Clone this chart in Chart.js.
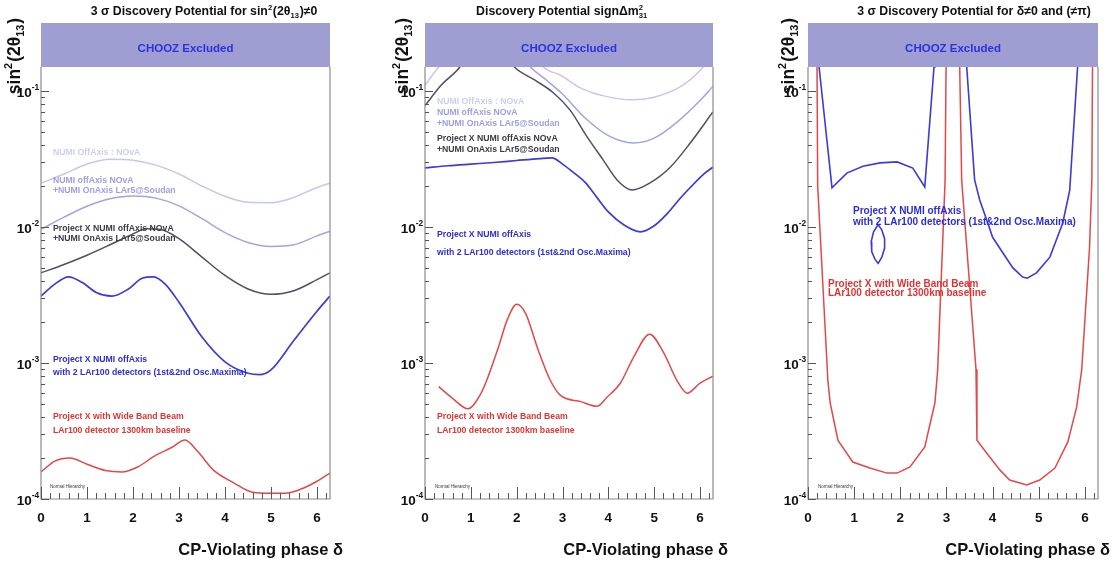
<!DOCTYPE html>
<html>
<head>
<meta charset="utf-8">
<script src="https://cdn.jsdelivr.net/npm/chart.js@4/dist/chart.umd.min.js"></script>
<style>
  html, body { margin: 0; padding: 0; background: #fff; }
  #wrap { position: relative; width: 1118px; height: 564px; overflow: hidden; }
  canvas { position: absolute; top: 0; }
</style>
</head>
<body>
<div id="wrap">
  <canvas id="c1" width="372" height="564" style="left:0px"></canvas>
  <canvas id="c2" width="373" height="564" style="left:372px"></canvas>
  <canvas id="c3" width="373" height="564" style="left:745px"></canvas>
</div>
<script>
// sin^2(2theta13) discovery reach versus the CP phase delta, three panels

const CHOOZ_LIMIT = 0.15;
const Y_MIN = 1e-4;
const Y_MAX = 0.316;
const X_MAX = 6.2832;

const xTickValues = [0, 1, 2, 3, 4, 5, 6];
const yDecades = [1e-4, 1e-3, 1e-2, 1e-1];
const yExponents = ['-4', '-3', '-2', '-1'];

// --- panel 1: sin^2(2theta13) != 0 ---
const p1NovaX = [0, 0.5, 1, 1.5, 2, 2.5, 3, 3.5, 4, 4.5, 5, 5.5, 6, 6.28];
const p1Nova  = [0.021, 0.0245, 0.029, 0.0315, 0.031, 0.0285, 0.0245, 0.020, 0.0168, 0.0152, 0.0151, 0.0165, 0.0195, 0.021];
const p1Lar5X = [0, 0.5, 1, 1.5, 2, 2.5, 3, 3.5, 4, 4.5, 5, 5.5, 6, 6.28];
const p1Lar5  = [0.0096, 0.0118, 0.0142, 0.0161, 0.0169, 0.0163, 0.0143, 0.0115, 0.0091, 0.0077, 0.0072, 0.0074, 0.0086, 0.0093];
const p1PxNovaX = [0, 0.5, 1, 1.5, 2, 2.3, 2.6, 3, 3.5, 4, 4.5, 5, 5.5, 6, 6.28];
const p1PxNova  = [0.0046, 0.0053, 0.0062, 0.0074, 0.0089, 0.0097, 0.0096, 0.0082, 0.006, 0.0044, 0.0035, 0.0032, 0.0034, 0.0041, 0.0046];
const p1PxLarX = [0, 0.3, 0.6, 0.9, 1.2, 1.54, 1.9, 2.2, 2.45, 2.7, 3, 3.5, 4, 4.5, 4.75, 5, 5.5, 6, 6.28];
const p1PxLar  = [0.0031, 0.0038, 0.0043, 0.0039, 0.0033, 0.0031, 0.0035, 0.0042, 0.0043, 0.0038, 0.0028, 0.00155, 0.00102, 0.00084, 0.00082, 0.00089, 0.00147, 0.0024, 0.0031];
const p1WbbX = [0, 0.3, 0.63, 1.0, 1.4, 1.76, 2.1, 2.5, 2.85, 3.13, 3.4, 3.75, 4.2, 4.6, 5.0, 5.3, 5.7, 6.0, 6.28];
const p1Wbb  = [0.000158, 0.00019, 0.0002, 0.00018, 0.000162, 0.000158, 0.000172, 0.00021, 0.00024, 0.000272, 0.000225, 0.000163, 0.000131, 0.000112, 0.00011, 0.00011, 0.00012, 0.000135, 0.000155];

// --- panel 2: sign of delta m^2_31 ---
const p2NovaX = [0, 0.3, 1.2, 2.0, 2.58, 2.95, 3.4, 3.9, 4.52, 5.0, 5.5, 5.8, 6.07, 6.28];
const p2Nova  = [0.11, 0.15, 0.3, 0.3, 0.15, 0.131, 0.105, 0.092, 0.086, 0.09, 0.104, 0.122, 0.15, 0.18];
const p2Lar5X = [0, 1.0, 2.0, 2.3, 2.65, 3.0, 3.5, 4.0, 4.55, 5.0, 5.5, 6.0, 6.28];
const p2Lar5  = [0.3, 0.3, 0.2, 0.15, 0.12, 0.095, 0.063, 0.047, 0.0415, 0.045, 0.059, 0.085, 0.108];
const p2PxNovaX = [0, 0.35, 0.76, 1.3, 1.95, 2.4, 2.8, 3.17, 3.5, 3.89, 4.2, 4.52, 4.9, 5.35, 5.8, 6.28];
const p2PxNova  = [0.078, 0.11, 0.15, 0.3, 0.15, 0.12, 0.097, 0.072, 0.048, 0.031, 0.022, 0.0187, 0.021, 0.0275, 0.042, 0.07];
const p2PxLarX = [0, 0.5, 1, 1.5, 2, 2.5, 2.77, 3.0, 3.25, 3.5, 3.75, 4.0, 4.35, 4.7, 5.0, 5.3, 5.55, 5.8, 6.05, 6.28];
const p2PxLar  = [0.0272, 0.0282, 0.029, 0.0298, 0.0308, 0.0318, 0.0322, 0.029, 0.025, 0.0212, 0.0165, 0.0129, 0.0103, 0.0092, 0.0102, 0.0127, 0.016, 0.0197, 0.024, 0.0275];
const p2WbbX = [0.3, 0.6, 0.94, 1.2, 1.35, 1.6, 1.8, 2.0, 2.2, 2.45, 2.73, 2.95, 3.4, 3.75, 3.97, 4.26, 4.55, 4.9, 5.2, 5.5, 5.72, 6.0, 6.28];
const p2Wbb  = [0.00067, 0.00055, 0.00046, 0.00058, 0.00075, 0.0013, 0.0021, 0.0027, 0.0023, 0.0013, 0.00075, 0.00058, 0.00052, 0.00048, 0.00056, 0.00071, 0.0011, 0.00163, 0.0012, 0.00074, 0.0006, 0.00071, 0.0008];

// --- panel 3: delta != 0 and != pi ---
const p3PxLarX = [0.22, 0.24, 0.52, 0.84, 1.19, 1.56, 1.93, 2.27, 2.53, 2.73, 2.75,
                  3.4, 3.44, 3.61, 3.72, 3.87, 4.0, 4.22, 4.44, 4.65, 4.75, 4.95, 5.24, 5.52, 5.67, 5.84, 5.87];
const p3PxLar  = [0.32, 0.15, 0.0194, 0.0249, 0.028, 0.0296, 0.0301, 0.0271, 0.0197, 0.15, 0.32,
                  0.32, 0.148, 0.0222, 0.0158, 0.0113, 0.0084, 0.00646, 0.005, 0.00428, 0.0042, 0.0046, 0.006, 0.0107, 0.0186, 0.148, 0.32];
const p3IslandX = [1.52, 1.42, 1.37, 1.38, 1.45, 1.52, 1.6, 1.66, 1.66, 1.6, 1.52];
const p3Island  = [0.0104, 0.0092, 0.0078, 0.0066, 0.0058, 0.0054, 0.006, 0.007, 0.0082, 0.0095, 0.0104];
const p3WbbX = [0.19, 0.21, 0.43, 0.48, 0.65, 0.97, 1.34, 1.71, 1.93, 2.21, 2.53, 2.75, 2.81, 2.97, 3.0,
                3.27, 3.33, 3.64, 3.66, 3.87, 4.16, 4.37, 4.74, 5.02, 5.35, 5.63, 5.82, 5.93, 6.1, 6.15, 6.17];
const p3Wbb  = [0.32, 0.02, 0.00075, 0.00051, 0.00027, 0.000187, 0.000169, 0.000155, 0.000155, 0.000172, 0.000241, 0.00051, 0.00089, 0.022, 0.32,
                0.32, 0.022, 0.0009, 0.00027, 0.000218, 0.000163, 0.000138, 0.000127, 0.000138, 0.000169, 0.000263, 0.000474, 0.00089, 0.0071, 0.022, 0.32];

const COL = {
  nova: '#c6c6ef',
  lar5: '#a3a3e4',
  pxNova: '#50505e',
  pxLar: '#3b3bd9',
  wbb: '#e24848',
  band: '#9e9ed2',
  chooz: '#2f2fe0',
};

const FONT = '"Liberation Sans", Arial, Helvetica, sans-serif';
const fontOf = size => `bold ${size}px ${FONT}`;

function pts(xs, ys) {
  return xs.map((x, i) => ({ x: x, y: ys[i] }));
}

function line(xs, ys, color, width, smooth) {
  return {
    data: pts(xs, ys),
    borderColor: color,
    borderWidth: width,
    pointRadius: 0,
    fill: false,
    tension: 0,
    cubicInterpolationMode: smooth ? 'monotone' : 'default',
  };
}

// text with super/subscripts: parts are strings or {sup, sub}
function richWidth(ctx, parts, size) {
  let w = 0;
  for (const p of parts) {
    if (typeof p === 'string') {
      ctx.font = fontOf(size);
      w += ctx.measureText(p).width;
    } else {
      ctx.font = fontOf(size * 0.62);
      w += Math.max(ctx.measureText(p.sup || '').width, ctx.measureText(p.sub || '').width) + size * 0.06;
    }
  }
  return w;
}

function richText(ctx, parts, x, y, size, align) {
  const w = richWidth(ctx, parts, size);
  let cx = align === 'center' ? x - w / 2 : align === 'right' ? x - w : x;
  ctx.textAlign = 'left';
  ctx.textBaseline = 'middle';
  for (const p of parts) {
    if (typeof p === 'string') {
      ctx.font = fontOf(size);
      ctx.fillText(p, cx, y);
      cx += ctx.measureText(p).width;
    } else {
      ctx.font = fontOf(size * 0.62);
      let ww = 0;
      if (p.sup) {
        ctx.fillText(p.sup, cx, y - size * 0.36);
        ww = ctx.measureText(p.sup).width;
      }
      if (p.sub) {
        ctx.fillText(p.sub, cx, y + size * 0.32);
        ww = Math.max(ww, ctx.measureText(p.sub).width);
      }
      cx += ww + size * 0.06;
    }
  }
}

const yTitle = ['sin', { sup: '2' }, '(2θ', { sub: '13' }, ')'];

// CHOOZ band, axes frame with inner ticks, labels and notes
const decor = {
  id: 'decor',
  afterDatasetsDraw(chart, args, o) {
    const { ctx, chartArea: a, scales: { x, y } } = chart;
    const yb = y.getPixelForValue(CHOOZ_LIMIT);
    ctx.save();
    ctx.fillStyle = COL.band;
    ctx.fillRect(a.left, a.top, a.right - a.left, yb - a.top);
    ctx.fillStyle = COL.chooz;
    ctx.font = fontOf(11.5);
    ctx.textAlign = 'center';
    ctx.textBaseline = 'middle';
    ctx.fillText('CHOOZ Excluded', (a.left + a.right) / 2, (a.top + yb) / 2 + 4);

    // frame
    ctx.strokeStyle = '#8c8c8c';
    ctx.lineWidth = 1.2;
    ctx.beginPath();
    ctx.moveTo(a.left, yb); ctx.lineTo(a.left, a.bottom); ctx.lineTo(a.right, a.bottom); ctx.lineTo(a.right, yb);
    ctx.stroke();

    // x ticks (every 0.2, long at integers)
    ctx.strokeStyle = '#555';
    ctx.lineWidth = 1;
    ctx.beginPath();
    for (let i = 0; i <= 31; i++) {
      const px = Math.round(x.getPixelForValue(i / 5)) + 0.5;
      const len = i % 5 === 0 ? 12 : 6;
      ctx.moveTo(px, a.bottom); ctx.lineTo(px, a.bottom - len);
    }
    // y ticks (log minors)
    yDecades.forEach(d => {
      for (let k = 1; k <= 9; k++) {
        const v = k * d;
        if (v > Y_MAX) break;
        const py = Math.round(y.getPixelForValue(v)) + 0.5;
        if (py < yb) continue;
        ctx.moveTo(a.left, py); ctx.lineTo(a.left + (k === 1 ? 8 : 4), py);
      }
    });
    ctx.stroke();

    // notes inside the frame
    o.notes.forEach(n => {
      ctx.fillStyle = n.color;
      ctx.font = fontOf(n.size);
      ctx.textAlign = 'left';
      ctx.textBaseline = 'middle';
      ctx.fillText(n.text, a.left + n.dx, a.top + n.dy);
    });
    ctx.fillStyle = '#333';
    ctx.font = `4.5px ${FONT}`;
    ctx.fillText('Normal Hierarchy', a.left + o.nhDx, a.bottom - 12);
    ctx.restore();
  },
  afterDraw(chart, args, o) {
    const { ctx, chartArea: a, scales: { x, y } } = chart;
    ctx.save();
    ctx.fillStyle = '#111';
    // x tick labels
    ctx.font = fontOf(13.5);
    ctx.textAlign = 'center';
    ctx.textBaseline = 'middle';
    xTickValues.forEach(v => ctx.fillText(String(v), x.getPixelForValue(v), a.bottom + 19));
    // y tick labels 10^n
    yDecades.forEach((d, i) => {
      richText(ctx, ['10', { sup: yExponents[i] }], a.left - 1, y.getPixelForValue(d) + 2, 13.5, 'right');
    });
    // titles
    richText(ctx, o.title, o.titleX, 12, 12.3, 'center');
    richText(ctx, ['CP-Violating phase δ'], a.right + o.xTitleDx, 550, 16.5, 'right');
    ctx.translate(o.yTitleX, 56);
    ctx.rotate(-Math.PI / 2);
    richText(ctx, yTitle, 0, 0, 17.5, 'center');
    ctx.restore();
  }
};

function notesFor(sizeSmall, rows) {
  return rows.map(r => ({ text: r[0], color: r[1], dx: r[2], dy: r[3], size: r[4] || sizeSmall }));
}

function makeChart(id, pad, datasets, o) {
  return new Chart(document.getElementById(id), {
    type: 'line',
    data: { datasets: datasets },
    options: {
      responsive: false,
      animation: false,
      devicePixelRatio: 1,
      layout: { padding: { left: pad[0], right: pad[1], top: 23, bottom: 65 } },
      scales: {
        x: { type: 'linear', min: 0, max: X_MAX, display: false },
        y: { type: 'logarithmic', min: Y_MIN, max: Y_MAX, display: false },
      },
      plugins: {
        legend: { display: false },
        tooltip: { enabled: false },
        decor: o,
      },
    },
    plugins: [decor],
  });
}

makeChart('c1', [41, 42], [
  line(p1NovaX, p1Nova, COL.nova, 1.5, true),
  line(p1Lar5X, p1Lar5, COL.lar5, 1.5, true),
  line(p1PxNovaX, p1PxNova, COL.pxNova, 1.5, true),
  line(p1PxLarX, p1PxLar, COL.pxLar, 1.7, true),
  line(p1WbbX, p1Wbb, COL.wbb, 1.5, true),
], {
  title: ['3 σ Discovery Potential for sin', { sup: '2' }, '(2θ', { sub: '13' }, ')≠0'],
  titleX: 204, xTitleDx: 13, yTitleX: 15, nhDx: 9,
  notes: notesFor(8.7, [
    ['NUMI OffAxis : NOvA', '#cdcdf2', 12, 130],
    ['NUMI offAxis NOvA', '#9e9ee2', 12, 158],
    ['+NUMI OnAxis LAr5@Soudan', '#9e9ee2', 12, 168],
    ['Project X NUMI offAxis NOvA', '#3a3a48', 12, 206],
    ['+NUMI OnAxis LAr5@Soudan', '#3a3a48', 12, 216],
    ['Project X NUMI offAxis', '#2c2cd8', 12, 337],
    ['with 2 LAr100 detectors (1st&2nd Osc.Maxima)', '#2c2cd8', 12, 350],
    ['Project X with Wide Band Beam', '#e03434', 12, 394],
    ['LAr100 detector 1300km baseline', '#e03434', 12, 408],
  ]),
});

makeChart('c2', [53, 32], [
  line(p2NovaX, p2Nova, COL.nova, 1.5, true),
  line(p2Lar5X, p2Lar5, COL.lar5, 1.5, true),
  line(p2PxNovaX, p2PxNova, COL.pxNova, 1.5, true),
  line(p2PxLarX, p2PxLar, COL.pxLar, 1.7, true),
  line(p2WbbX, p2Wbb, COL.wbb, 1.5, true),
], {
  title: ['Discovery Potential signΔm', { sup: '2', sub: '31' }],
  titleX: 190, xTitleDx: 15, yTitleX: 31, nhDx: 10,
  notes: notesFor(8.7, [
    ['NUMI OffAxis : NOvA', '#cdcdf2', 12, 79],
    ['NUMI offAxis NOvA', '#9e9ee2', 12, 90],
    ['+NUMI OnAxis LAr5@Soudan', '#9e9ee2', 12, 101],
    ['Project X NUMI offAxis NOvA', '#3a3a48', 12, 116],
    ['+NUMI OnAxis LAr5@Soudan', '#3a3a48', 12, 127],
    ['Project X NUMI offAxis', '#2c2cd8', 12, 212],
    ['with 2 LAr100 detectors (1st&2nd Osc.Maxima)', '#2c2cd8', 12, 230],
    ['Project X with Wide Band Beam', '#e03434', 12, 394],
    ['LAr100 detector 1300km baseline', '#e03434', 12, 408],
  ]),
});

makeChart('c3', [63, 20], [
  line(p3WbbX, p3Wbb, COL.wbb, 1.5, false),
  line(p3PxLarX, p3PxLar, COL.pxLar, 1.6, false),
  line(p3IslandX, p3Island, COL.pxLar, 1.6, false),
], {
  title: ['3 σ Discovery Potential for δ≠0 and (≠π)'],
  titleX: 229, xTitleDx: 12, yTitleX: 44, nhDx: 10,
  notes: notesFor(10, [
    ['Project X NUMI offAxis', '#2c2cd8', 45, 188],
    ['with 2 LAr100 detectors (1st&2nd Osc.Maxima)', '#2c2cd8', 45, 199],
    ['Project X with Wide Band Beam', '#e03434', 20, 261],
    ['LAr100 detector 1300km baseline', '#e03434', 20, 270],
  ]),
});
</script>
</body>
</html>
